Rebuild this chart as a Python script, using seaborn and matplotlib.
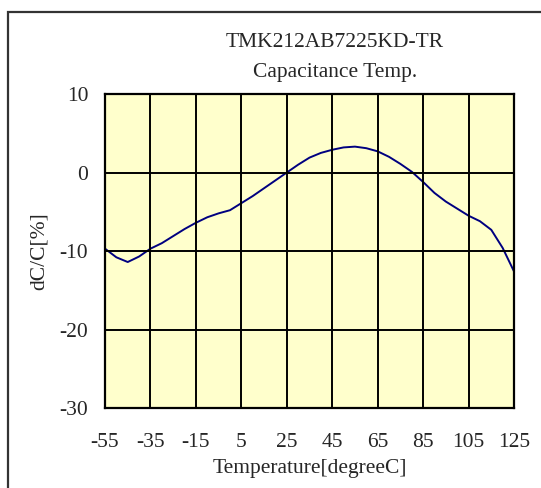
import matplotlib
matplotlib.use("Agg")
import matplotlib.pyplot as plt
import seaborn as sns
import pandas as pd
from matplotlib.patches import Rectangle

temps = [-55, -50, -45, -40, -35, -30, -25, -20, -15, -10, -5, 0, 5, 10, 15, 20,
         25, 30, 35, 40, 45, 50, 55, 60, 65, 70, 75, 80, 85, 90, 95, 100, 105,
         110, 115, 120, 125]
dcc = [-9.7, -10.8, -11.4, -10.7, -9.7, -9.0, -8.1, -7.2, -6.4, -5.7, -5.2, -4.8,
       -3.9, -3.0, -2.0, -1.0, 0.0, 1.0, 1.9, 2.5, 2.9, 3.2, 3.3, 3.1, 2.7, 2.0,
       1.1, 0.1, -1.2, -2.6, -3.7, -4.6, -5.5, -6.2, -7.3, -9.6, -12.6]
xticks = [-55, -35, -15, 5, 25, 45, 65, 85, 105, 125]
yticks = [-30, -20, -10, 0, 10]
title_lines = ["TMK212AB7225KD-TR", "Capacitance Temp."]

df = pd.DataFrame({"T": temps, "dC": dcc})

sns.set_style("white")
plt.rcParams['font.family'] = ['Liberation Serif', 'DejaVu Serif']

FS = 15.5
fig = plt.figure(figsize=(5.41, 4.88), dpi=100)
ax = fig.add_axes([0.1941, 0.1639, 0.7560, 0.6434])
ax.set_facecolor("#FFFFCC")

sns.lineplot(data=df, x="T", y="dC", ax=ax, color="#000080", linewidth=1.4)

ax.set_xlim(-55, 125)
ax.set_ylim(-30, 10)
ax.set_xticks(xticks)
ax.set_yticks(yticks)
ax.set_xticklabels([str(v) for v in xticks], fontsize=FS)
ax.set_yticklabels([str(v) for v in yticks], fontsize=FS)
ax.tick_params(axis="x", length=0, pad=18)
ax.tick_params(axis="y", length=0, pad=12)
ax.grid(True, color="black", linewidth=1.4)
ax.set_axisbelow(False)
for s in ax.spines.values():
    s.set_color("black")
    s.set_linewidth(1.6)

ax.set_xlabel("Temperature[degreeC]", fontsize=FS, labelpad=5)
ax.set_ylabel("dC/C[%]", fontsize=FS, labelpad=8)

fig.text(0.619, 0.912, title_lines[0], ha="center", va="center", fontsize=FS)
fig.text(0.619, 0.851, title_lines[1], ha="center", va="center", fontsize=FS)

fig.patches.append(Rectangle((8 / 541, -0.1), 1.2, (488 - 12) / 488 + 0.1,
                             transform=fig.transFigure, fill=False,
                             edgecolor="#333333", linewidth=1.6))

fig.savefig("out.png", dpi=100, facecolor="white")
